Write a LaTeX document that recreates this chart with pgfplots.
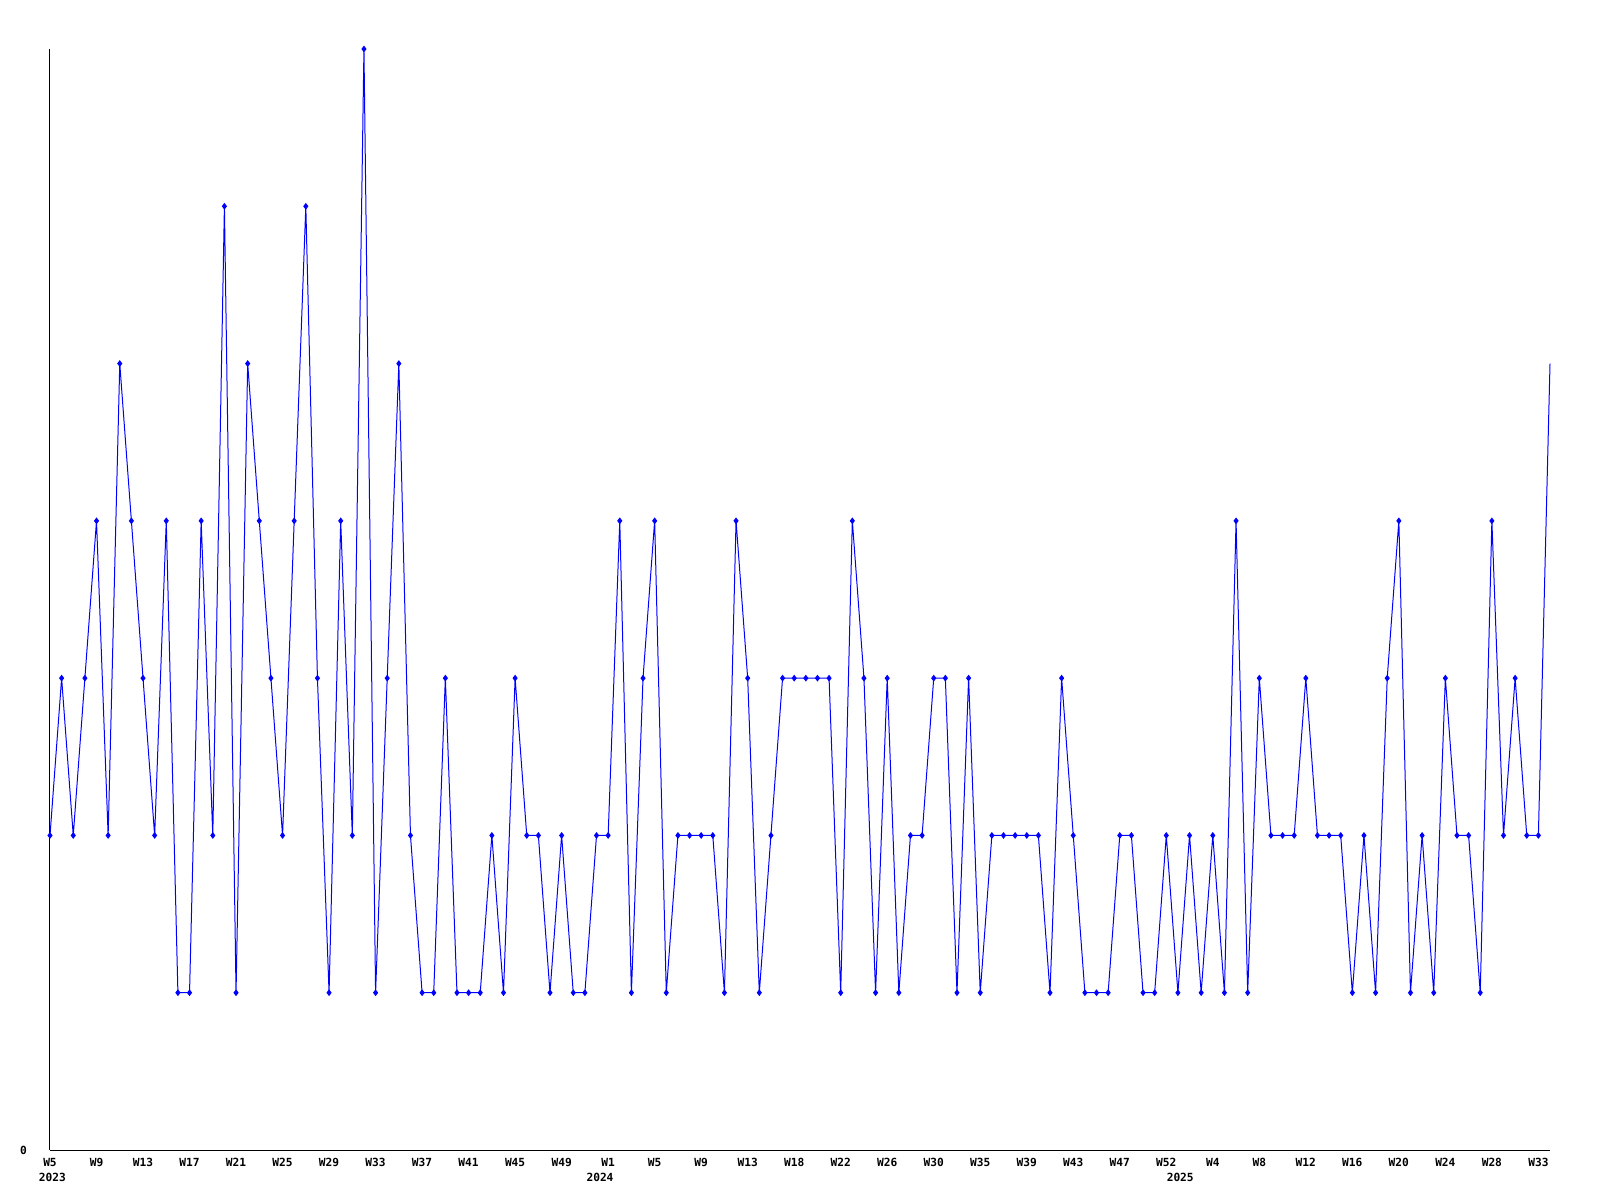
\documentclass[border=0pt]{standalone}
\usepackage{fontspec}
\setmonofont{DejaVu Sans Mono}
\usepackage{pgfplots}
\pgfplotsset{compat=1.18}
\begin{document}
\begin{tikzpicture}[x=1pt,y=1pt]
\useasboundingbox (-25,-25) rectangle (775,575);
\begin{axis}[
  at={(0,0)}, anchor=south west,
  width=750pt, height=550.5pt, scale only axis,
  xmin=0, xmax=129, ymin=0, ymax=7,
  axis x line=bottom, axis y line=left,
  axis line style={-, black, line width=0.5pt},
  major tick length=0pt,
  ytick={0}, yticklabels={0},
  xtick={0,4,...,128},
  xticklabels={W5,W9,W13,W17,W21,W25,W29,W33,W37,W41,W45,W49,W1,W5,W9,W13,W18,W22,W26,W30,W35,W39,W43,W47,W52,W4,W8,W12,W16,W20,W24,W28,W33},
  extra x ticks={0.2,47.3,97.2},
  extra x tick labels={2023,2024,2025},
  extra x tick style={tick label style={yshift=-7.5pt}},
  tick label style={font=\fontsize{5.6}{6}\selectfont\ttfamily\bfseries},
  xticklabel style={yshift=-0.5pt},
  yticklabel style={xshift=-8pt},
  clip=false,
]
\addplot[color={rgb,255:red,0;green,0;blue,255}, line width=0.5pt, mark=diamond*, mark size=1.3pt, mark indices={1,...,129}] coordinates {
(0,2)(1,3)(2,2)(3,3)(4,4)(5,2)(6,5)(7,4)(8,3)(9,2)
(10,4)(11,1)(12,1)(13,4)(14,2)(15,6)(16,1)(17,5)(18,4)(19,3)
(20,2)(21,4)(22,6)(23,3)(24,1)(25,4)(26,2)(27,7)(28,1)(29,3)
(30,5)(31,2)(32,1)(33,1)(34,3)(35,1)(36,1)(37,1)(38,2)(39,1)
(40,3)(41,2)(42,2)(43,1)(44,2)(45,1)(46,1)(47,2)(48,2)(49,4)
(50,1)(51,3)(52,4)(53,1)(54,2)(55,2)(56,2)(57,2)(58,1)(59,4)
(60,3)(61,1)(62,2)(63,3)(64,3)(65,3)(66,3)(67,3)(68,1)(69,4)
(70,3)(71,1)(72,3)(73,1)(74,2)(75,2)(76,3)(77,3)(78,1)(79,3)
(80,1)(81,2)(82,2)(83,2)(84,2)(85,2)(86,1)(87,3)(88,2)(89,1)
(90,1)(91,1)(92,2)(93,2)(94,1)(95,1)(96,2)(97,1)(98,2)(99,1)
(100,2)(101,1)(102,4)(103,1)(104,3)(105,2)(106,2)(107,2)(108,3)(109,2)
(110,2)(111,2)(112,1)(113,2)(114,1)(115,3)(116,4)(117,1)(118,2)(119,1)
(120,3)(121,2)(122,2)(123,1)(124,4)(125,2)(126,3)(127,2)(128,2)(129,5)
};
\end{axis}
\end{tikzpicture}
\end{document}
